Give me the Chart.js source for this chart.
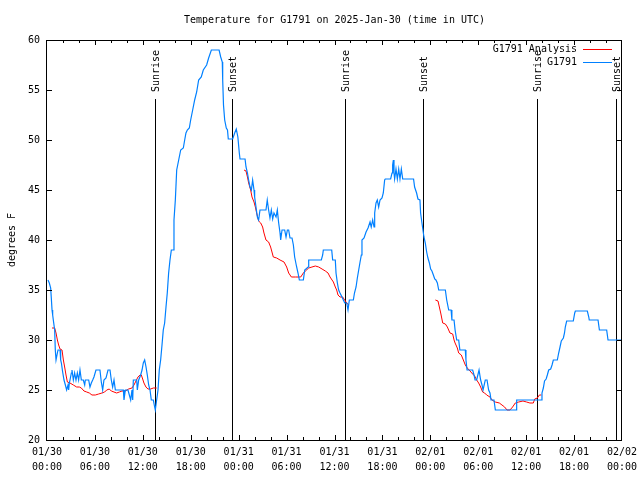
<!DOCTYPE html>
<html>
<head>
<meta charset="utf-8">
<script src="https://cdn.jsdelivr.net/npm/chart.js@4/dist/chart.umd.min.js"></script>
<style>
  html, body { margin: 0; padding: 0; background: #fff; }
  canvas { display: block; }
</style>
</head>
<body>
<canvas id="chart" width="640" height="480"></canvas>
<script>
// hours since 01/30 00:00 UTC
const xTickLabels = [
  ["01/30", "00:00"], ["01/30", "06:00"], ["01/30", "12:00"], ["01/30", "18:00"],
  ["01/31", "00:00"], ["01/31", "06:00"], ["01/31", "12:00"], ["01/31", "18:00"],
  ["02/01", "00:00"], ["02/01", "06:00"], ["02/01", "12:00"], ["02/01", "18:00"],
  ["02/02", "00:00"]
];

const sunHours = [13.49, 23.17, 37.36, 47.12, 61.4, 71.2];
const sunLabels = ["Sunrise", "Sunset", "Sunrise", "Sunset", "Sunrise", "Sunset"];

// G1791 observations
const obsHours = [
  0.12, 0.29, 0.46, 0.54, 0.63, 0.71, 0.79, 0.96, 1.04, 1.13, 1.3, 1.38, 1.63, 1.71, 1.8, 1.96,
  2.13, 2.3, 2.46, 2.63, 2.71, 2.8, 2.88, 3.05, 3.13, 3.3, 3.46, 3.63, 3.8, 3.96, 4.13, 4.3,
  4.55, 4.72, 4.8, 5.22, 5.38, 5.55, 5.72, 5.88, 6.13, 6.63, 6.8, 6.97, 7.13, 7.39, 7.64, 7.89,
  8.05, 8.22, 8.39, 8.56, 9.56, 9.64, 9.81, 10.14, 10.31, 10.48, 10.64, 10.73, 10.81, 11.23, 11.31, 11.48,
  11.73, 11.9, 12.06, 12.23, 12.4, 12.56, 12.73, 12.9, 13.06, 13.31, 13.48, 13.56, 13.73, 13.9, 14.06, 14.23,
  14.4, 14.56, 14.73, 14.9, 15.06, 15.23, 15.4, 15.57, 15.82, 15.9, 16.07, 16.24, 16.49, 16.74, 17.07, 17.24,
  17.4, 17.57, 17.82, 17.99, 18.24, 18.49, 18.74, 18.99, 19.32, 19.57, 19.99, 20.24, 20.58, 21.55, 21.75, 21.95,
  22.0, 22.1, 22.25, 22.45, 22.6, 22.7, 23.25, 23.5, 23.7, 23.9, 24.08, 24.17, 24.8, 24.92, 25.1, 25.25,
  25.42, 25.59, 25.75, 25.92, 26.0, 26.17, 26.34, 26.5, 26.67, 27.42, 27.58, 27.75, 27.92, 28.09, 28.26, 28.42,
  28.68, 28.84, 29.01, 29.18, 29.26, 29.43, 29.76, 29.93, 30.1, 30.26, 30.43, 30.68, 30.85, 31.01, 31.26, 31.43,
  31.6, 32.1, 32.27, 32.69, 32.77, 34.35, 34.52, 34.6, 35.65, 35.77, 36.1, 36.19, 36.36, 36.52, 36.69, 36.94,
  37.11, 37.28, 37.53, 37.69, 37.86, 38.36, 38.5, 38.7, 38.86, 39.03, 39.2, 39.36, 39.44, 39.7, 39.95, 40.2,
  40.45, 40.6, 40.78, 40.95, 41.03, 41.2, 41.36, 41.53, 41.7, 41.95, 42.11, 42.28, 42.36, 43.03, 43.2, 43.28,
  43.37, 43.45, 43.53, 43.7, 43.87, 44.04, 44.2, 44.37, 44.54, 44.6, 45.9, 46.03, 46.28, 46.45, 46.7, 46.78,
  46.95, 47.2, 47.37, 47.54, 47.7, 47.88, 48.04, 48.2, 48.38, 48.55, 48.7, 48.88, 49.05, 49.88, 50.05, 50.3,
  50.6, 50.7, 50.97, 51.1, 51.3, 51.55, 51.7, 52.38, 52.46, 52.6, 53.3, 53.47, 53.6, 53.8, 53.95, 54.1,
  54.3, 54.47, 54.6, 54.88, 55.1, 55.3, 55.47, 55.6, 55.97, 56.14, 58.8, 58.81, 61.9, 61.98, 62.15, 62.3,
  62.5, 62.65, 62.82, 63.07, 63.24, 63.4, 63.9, 64.07, 64.24, 64.4, 64.66, 64.8, 64.9, 65.07, 65.9, 66.08,
  66.16, 67.66, 67.84, 67.9, 69.0, 69.17, 70.08, 70.25, 72.0
];
const obsTemps = [
  36.0, 35.7, 35.2, 34.2, 33.0, 32.5, 32.0, 31.0, 29.0, 28.0, 28.7, 29.0, 29.0, 28.0, 27.7, 26.8,
  26.0, 25.5, 25.0, 25.5, 25.0, 25.7, 26.0, 26.7, 27.0, 26.0, 26.7, 26.0, 26.7, 26.0, 27.0, 26.0,
  26.0, 25.5, 26.0, 26.0, 25.3, 25.7, 26.0, 26.3, 27.0, 27.0, 25.8, 25.0, 26.0, 26.2, 27.0, 27.0,
  26.0, 25.3, 26.0, 25.0, 25.0, 24.0, 25.0, 25.0, 24.5, 24.0, 25.0, 24.0, 26.0, 26.0, 25.0, 26.0,
  26.5, 27.0, 27.7, 28.0, 27.3, 26.5, 25.5, 25.0, 24.0, 24.0, 23.3, 23.0, 24.0, 25.0, 27.0, 28.0,
  29.5, 31.0, 31.7, 33.3, 34.7, 36.7, 38.0, 39.0, 39.0, 42.0, 44.0, 47.0, 48.0, 49.0, 49.2, 50.0,
  50.7, 51.0, 51.2, 52.0, 53.0, 54.0, 54.8, 56.0, 56.3, 57.0, 57.5, 58.2, 59.0, 59.0, 58.3, 57.8,
  56.0, 53.5, 52.0, 51.2, 51.0, 50.1, 50.1, 50.7, 51.1, 50.3, 48.7, 48.1, 48.1, 47.3, 46.7, 46.0,
  45.3, 45.0, 46.0, 45.0, 44.3, 43.3, 42.3, 42.0, 43.0, 43.0, 44.0, 43.0, 42.2, 43.0, 42.1, 42.7,
  42.3, 43.0, 41.7, 40.7, 40.0, 41.0, 41.0, 40.3, 41.0, 41.0, 40.2, 40.2, 39.5, 38.3, 37.3, 36.7,
  36.0, 36.0, 37.0, 37.3, 38.0, 38.0, 38.5, 39.0, 39.0, 38.0, 38.0, 36.7, 35.7, 35.0, 34.7, 34.3,
  34.0, 33.7, 33.7, 33.0, 34.0, 34.0, 34.7, 35.3, 36.2, 37.0, 37.8, 38.5, 40.0, 40.2, 40.8, 41.2,
  41.8, 41.3, 42.0, 41.3, 42.7, 43.7, 44.0, 43.3, 44.0, 44.2, 44.7, 46.0, 46.1, 46.1, 46.7, 47.5,
  48.0, 46.7, 46.1, 47.1, 46.1, 47.1, 46.1, 47.1, 46.1, 46.1, 46.1, 45.3, 44.7, 44.1, 44.0, 42.7,
  41.7, 40.3, 39.7, 38.8, 38.2, 37.7, 37.1, 36.9, 36.5, 36.1, 36.0, 35.7, 35.0, 35.0, 34.0, 33.0,
  33.0, 32.0, 32.0, 31.0, 30.0, 30.0, 29.0, 29.0, 28.0, 27.0, 27.0, 26.5, 26.0, 26.0, 26.5, 27.0,
  26.0, 25.5, 25.0, 26.0, 26.0, 25.0, 24.7, 24.0, 24.0, 23.0, 23.0, 24.0, 24.0, 24.7, 25.2, 25.9,
  26.1, 26.5, 27.0, 27.1, 27.5, 28.0, 28.0, 28.7, 29.3, 29.9, 30.2, 30.7, 31.3, 31.9, 31.9, 32.7,
  32.9, 32.9, 32.3, 32.0, 32.0, 31.0, 31.0, 30.0, 30.0
];

// G1791 Analysis (null = gap between runs)
const anaHours = [
  0.63, 0.96, 1.13, 1.3, 1.46, 1.63, 1.88, 2.05, 2.21, 2.38, 2.55, 2.88, 3.3, 3.71, 4.05, 4.3,
  4.63, 4.97, 5.3, 5.63, 6.05, 6.47, 6.88, 7.22, 7.47, 7.8, 8.05, 8.39, 8.72, 9.06, 9.39, 9.81,
  10.22, 10.64, 10.89, 11.14, 11.39, 11.64, 11.81, 11.98, 12.14, 12.39, 12.64, 12.98, 13.31, 13.73,
  19.0,
  24.67, 24.92, 25.1, 25.25, 25.5, 25.67, 25.92, 26.09, 26.25, 26.5, 26.76, 27.0, 27.17, 27.42, 27.75, 28.0,
  28.34, 28.76, 29.18, 29.68, 30.01, 30.26, 30.6, 31.1, 31.77, 32.1, 32.35, 32.77, 33.18, 33.6, 34.02, 34.44,
  34.85, 35.19, 35.44, 35.86, 36.1, 36.27, 36.44, 36.69, 37.02, 37.27, 37.53, 37.78,
  43.0,
  48.63, 48.96, 49.13, 49.3, 49.55, 49.88, 50.13, 50.46, 50.8, 50.97, 51.1, 51.38, 51.55, 51.88, 52.13, 52.38,
  52.63, 52.97, 53.3, 53.55, 53.8, 54.05, 54.3, 54.55, 54.8, 55.05, 55.47, 55.72, 56.14, 56.64, 56.97, 57.3,
  57.6, 57.97, 58.3, 58.64, 59.06, 59.6, 60.05, 60.47, 60.9, 61.07, 61.4, 61.65, 61.9
];
const anaTemps = [
  31.2, 31.2, 30.7, 30.0, 29.5, 29.1, 29.0, 28.0, 27.3, 26.5, 25.8, 25.7, 25.5, 25.3, 25.3, 25.2,
  24.9, 24.8, 24.7, 24.5, 24.5, 24.6, 24.7, 24.8, 25.0, 25.1, 24.9, 24.8, 24.7, 24.8, 24.9, 24.9,
  25.1, 25.2, 25.5, 25.9, 26.3, 26.5, 26.5, 26.1, 25.7, 25.3, 25.1, 25.1, 25.2, 25.2,
  null,
  47.0, 46.9, 46.3, 45.7, 45.0, 44.3, 43.8, 43.3, 42.7, 41.9, 41.7, 41.3, 40.7, 40.0, 39.8, 39.3,
  38.3, 38.2, 38.0, 37.8, 37.3, 36.7, 36.3, 36.3, 36.3, 36.7, 36.9, 37.2, 37.3, 37.4, 37.3, 37.1,
  36.9, 36.7, 36.3, 35.8, 35.3, 35.0, 34.5, 34.3, 34.3, 34.0, 33.7, 33.5,
  null,
  34.0, 33.9, 33.3, 32.7, 31.7, 31.6, 31.3, 30.7, 30.6, 30.0, 29.7, 29.2, 28.7, 28.5, 28.0, 27.5,
  27.2, 26.9, 26.6, 26.4, 26.0, 25.7, 25.3, 24.8, 24.7, 24.5, 24.3, 24.0, 23.8, 23.7, 23.5, 23.3,
  23.0, 23.0, 23.3, 23.7, 23.8, 23.9, 23.8, 23.7, 23.7, 24.1, 24.2, 24.5, 24.5
];

const FONT = "'DejaVu Sans Mono', 'Liberation Mono', monospace";
const RED = "#ff0000";
const BLUE = "#0080ff";

const toPoints = (xs, ys) => xs.map((x, i) => ({ x: x, y: ys[i] }));

/* ---- gnuplot-ish frame: border, inward ticks, sun lines, title, legend ---- */
const framePlugin = {
  id: "frame",
  beforeDatasetsDraw(chart) {
    const { ctx, chartArea, scales } = chart;
    ctx.save();
    ctx.strokeStyle = "#000";
    ctx.lineWidth = 1;
    ctx.fillStyle = "#000";
    ctx.font = "10px " + FONT;
    sunHours.forEach((h, i) => {
      const x = Math.round(scales.x.getPixelForValue(h)) + 0.5;
      ctx.beginPath();
      ctx.moveTo(x, chartArea.top + 59);
      ctx.lineTo(x, chartArea.bottom);
      ctx.stroke();

      ctx.save();
      ctx.translate(x + 0.5, chartArea.top + 52);
      ctx.rotate(-Math.PI / 2);
      ctx.textAlign = "left";
      ctx.textBaseline = "middle";
      ctx.fillText(sunLabels[i], 0, 0);
      ctx.restore();
    });
    ctx.restore();
  },
  afterDraw(chart) {
    const { ctx, chartArea, scales } = chart;
    const { left, right, top, bottom } = chartArea;
    ctx.save();
    ctx.strokeStyle = "#000";
    ctx.lineWidth = 1;

    // border
    ctx.strokeRect(left - 0.5, top + 0.5, right - left, bottom - top);

    // x ticks (major 6h, minor 2h), top and bottom
    ctx.beginPath();
    for (let h = 2; h < 72; h += 2) {
      const x = Math.round(scales.x.getPixelForValue(h)) + 0.5;
      const len = h % 6 === 0 ? 5 : 3;
      ctx.moveTo(x, bottom);
      ctx.lineTo(x, bottom - len);
      ctx.moveTo(x, top);
      ctx.lineTo(x, top + len);
    }
    // y ticks, left and right
    for (let t = 25; t < 60; t += 5) {
      const y = Math.round(scales.y.getPixelForValue(t)) + 0.5;
      ctx.moveTo(left, y);
      ctx.lineTo(left + 5, y);
      ctx.moveTo(right, y);
      ctx.lineTo(right - 5, y);
    }
    ctx.stroke();

    // title
    ctx.fillStyle = "#000";
    ctx.font = "10px " + FONT;
    ctx.textAlign = "center";
    ctx.textBaseline = "middle";
    ctx.fillText("Temperature for G1791 on 2025-Jan-30 (time in UTC)", (left + right) / 2, 20);

    // legend, top right inside the plot
    const legend = [["G1791 Analysis", RED], ["G1791", BLUE]];
    legend.forEach((item, i) => {
      const y = top + 9 + i * 13;
      ctx.textAlign = "right";
      ctx.fillStyle = "#000";
      ctx.fillText(item[0], right - 45, y);
      ctx.strokeStyle = item[1];
      ctx.beginPath();
      ctx.moveTo(right - 39, y + 0.5);
      ctx.lineTo(right - 10, y + 0.5);
      ctx.stroke();
    });
    ctx.restore();
  }
};

new Chart(document.getElementById("chart"), {
  type: "line",
  data: {
    datasets: [
      {
        label: "G1791 Analysis",
        data: toPoints(anaHours, anaTemps),
        borderColor: RED,
        borderWidth: 1,
        pointRadius: 0,
        tension: 0,
        spanGaps: false,
        order: 2
      },
      {
        label: "G1791",
        data: toPoints(obsHours, obsTemps),
        borderColor: BLUE,
        borderWidth: 1.2,
        pointRadius: 0,
        tension: 0,
        order: 1
      }
    ]
  },
  options: {
    responsive: false,
    animation: false,
    devicePixelRatio: 1,
    layout: { padding: { top: 40, right: 18, left: 0, bottom: 0 } },
    plugins: {
      legend: { display: false },
      tooltip: { enabled: false },
      title: { display: false }
    },
    scales: {
      x: {
        type: "linear",
        min: 0,
        max: 72,
        afterFit: s => {
          s.height = 40;
          s.paddingLeft = 0;
          s.paddingRight = 0;
        },
        grid: { display: false, drawTicks: false },
        border: { display: false },
        ticks: {
          stepSize: 6,
          autoSkip: false,
          maxRotation: 0,
          padding: 5,
          color: "#000",
          font: { family: FONT, size: 10, lineHeight: 1.5 },
          callback: (v, i) => xTickLabels[i]
        }
      },
      y: {
        min: 20,
        max: 60,
        afterFit: s => {
          s.width = 47;
          s.paddingTop = 0;
          s.paddingBottom = 0;
        },
        grid: { display: false, drawTicks: false },
        border: { display: false },
        ticks: {
          stepSize: 5,
          padding: 7,
          color: "#000",
          font: { family: FONT, size: 10 }
        },
        title: {
          display: true,
          text: "degrees F",
          color: "#000",
          font: { family: FONT, size: 10 },
          padding: { top: 6, bottom: 0 }
        }
      }
    }
  },
  plugins: [framePlugin]
});
</script>
</body>
</html>
